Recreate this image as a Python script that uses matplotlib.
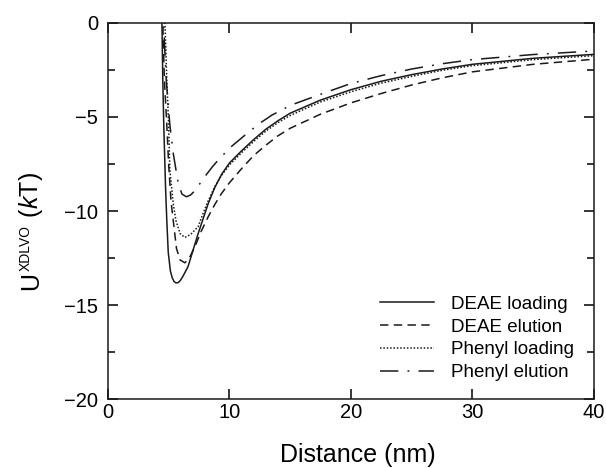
import matplotlib
matplotlib.use("Agg")
import matplotlib.pyplot as plt
from matplotlib.ticker import MultipleLocator

plt.rcParams['font.family'] = ['Liberation Sans', 'DejaVu Sans']
plt.rcParams['mathtext.fontset'] = 'custom'
plt.rcParams['mathtext.rm'] = 'Liberation Sans'
plt.rcParams['mathtext.it'] = 'Liberation Sans:italic'

# values (distance in nm, energy in kT)
deae_load_x = [4.38, 4.45, 4.52, 4.60, 4.67, 4.75, 4.85, 4.97, 5.15, 5.30, 5.45, 5.62, 5.79, 5.95, 6.15, 6.60,
               7.00, 7.43, 8.26, 8.8, 9.36, 10.0, 11.0, 12.0, 13.0, 14.0, 15.0, 17.5, 20.0, 22.5,
               25.0, 27.5, 30.0, 35.0, 40.0]
deae_load_y = [3.0, 0.0, -3.0, -5.4, -7.0, -8.8, -10.5, -12.2, -13.2, -13.55, -13.75, -13.82, -13.8, -13.7, -13.5, -12.95,
               -12.1, -11.2, -9.6, -8.75, -8.05, -7.45, -6.8, -6.2, -5.65, -5.2, -4.8, -4.1, -3.55, -3.1,
               -2.75, -2.45, -2.2, -1.88, -1.67]

deae_elu_x = [4.45, 4.52, 4.65, 4.85, 5.0, 5.2, 5.38, 5.65, 5.95, 6.34, 6.7, 7.16, 7.7, 8.26, 8.8, 9.36,
              10.0, 11.0, 12.0, 13.0, 14.0, 15.0, 17.5, 20.0, 22.5, 25.0, 27.5, 30.0, 35.0, 40.0]
deae_elu_y = [3.0, 0.0, -3.0, -5.4, -7.5, -9.5, -10.5, -12.0, -12.6, -12.75, -12.5, -11.9, -11.05, -10.3, -9.65, -9.06,
              -8.5, -7.75, -7.05, -6.5, -6.0, -5.6, -4.85, -4.25, -3.75, -3.3, -2.92, -2.6, -2.2, -1.93]

ph_load_x = [4.6, 4.7, 4.85, 5.0, 5.1, 5.38, 5.6, 5.95, 6.34, 6.8, 7.43, 7.85, 8.26, 8.8, 9.36,
             10.0, 11.0, 12.0, 13.0, 14.0, 15.0, 17.5, 20.0, 22.5, 25.0, 27.5, 30.0, 35.0, 40.0]
ph_load_y = [3.0, 0.0, -3.0, -5.4, -7.8, -9.6, -10.5, -11.2, -11.4, -11.25, -10.83, -10.1, -9.45, -8.7, -8.1,
             -7.55, -6.9, -6.3, -5.75, -5.3, -4.92, -4.2, -3.66, -3.2, -2.84, -2.52, -2.27, -1.95, -1.74]

ph_elu_x = [4.5, 4.58, 4.8, 5.1, 5.38, 5.79, 6.1, 6.47, 6.8, 7.16, 7.98, 8.6, 9.2, 10.2, 11.5,
            12.4, 13.5, 15.1, 17.9, 20.0, 22.5, 25.0, 27.5, 30.0, 35.0, 40.0]
ph_elu_y = [3.0, 0.0, -3.0, -5.4, -6.93, -8.53, -9.1, -9.24, -9.15, -8.92, -8.17, -7.65, -7.2, -6.55, -5.85,
            -5.38, -4.9, -4.36, -3.7, -3.22, -2.8, -2.45, -2.17, -1.95, -1.68, -1.49]

W, H = 606, 468
fig = plt.figure(figsize=(W / 100, H / 100), dpi=100)
ax = fig.add_axes([0.178, 0.147, 0.802, 0.804])

col = '#1a1a1a'
lw = 1.1
ax.plot(deae_load_x, deae_load_y, color=col, lw=lw, linestyle='-', label='DEAE loading')
ax.plot(deae_elu_x, deae_elu_y, color=col, lw=lw, linestyle=(0, (5.5, 3.5)), label='DEAE elution')
ax.plot(ph_load_x, ph_load_y, color=col, lw=lw, linestyle=(0, (1, 1.2)), label='Phenyl loading')
ax.plot(ph_elu_x, ph_elu_y, color=col, lw=lw, linestyle=(0, (12, 6, 1.2, 6)), label='Phenyl elution')

ax.set_xlim(0, 40)
ax.set_ylim(-20, 0)
ax.xaxis.set_major_locator(MultipleLocator(10))
ax.yaxis.set_major_locator(MultipleLocator(5))
ax.yaxis.set_minor_locator(MultipleLocator(2.5))

ax.tick_params(which='both', direction='in', top=True, right=True, width=1.1, labelsize=14.5)
ax.tick_params(which='major', length=7)
ax.tick_params(which='minor', length=5)
ax.tick_params(axis='y', pad=7)
ax.tick_params(axis='x', pad=3)
for s in ax.spines.values():
    s.set_linewidth(1.1)
    s.set_color(col)

ax.set_xlabel('Distance (nm)', fontsize=18)
ax.xaxis.set_label_coords(0.514, -0.117)

# y label built from pieces so the superscript can be small
renderer = fig.canvas.get_renderer()
base_x = 38
y_px = H - 290
kw = dict(rotation=90, rotation_mode='anchor', ha='left', va='baseline', color='black')
t1 = fig.text(base_x / W, y_px / H, 'U', fontsize=18, **kw)
y_px = t1.get_window_extent(renderer).y1 + 1
t2 = fig.text((base_x - 8) / W, y_px / H, 'XDLVO', fontsize=10, **kw)
y_px = t2.get_window_extent(renderer).y1 + 1
fig.text(base_x / W, y_px / H, ' ($k$T)', fontsize=18, **kw)

ax.legend(loc='lower right', bbox_to_anchor=(0.959, 0.048), frameon=False, fontsize=13.5,
          borderpad=0, borderaxespad=0, labelspacing=0.3, handlelength=2.9, handletextpad=0.9)

fig.savefig('out.png', dpi=100)
